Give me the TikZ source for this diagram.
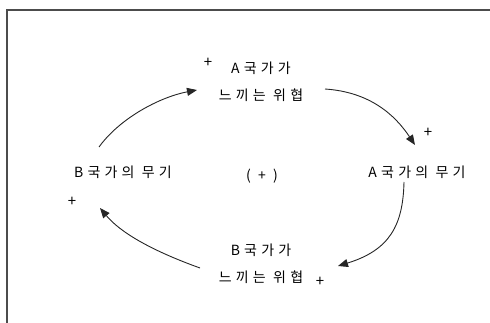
\documentclass[tikz,border=0pt]{standalone}
\usepackage{fontspec}
\newfontfamily\kr{Noto Sans CJK KR}[LetterSpace=30]
\newfontfamily\krp{Noto Sans CJK KR}
\usetikzlibrary{arrows.meta,calc}
\begin{document}
\begin{tikzpicture}[x=1pt,y=-1pt,
  lbl/.style={font=\kr\fontsize{14}{27}\selectfont, align=center, inner sep=0pt, text=black},
  pls/.style={font=\krp\fontsize{15}{15}\selectfont, inner sep=0pt},
  arr/.style={line width=0.9pt, black!85, -{Triangle[length=10pt,width=8pt]}}]
\useasboundingbox (0,0) rectangle (490,323);
\clip (0,0) rectangle (490,323);
\draw[black!70, line width=1.3pt] (7,340) |- (500,10);
\node[lbl] (at) at (261,82) {A국가가\\느끼는 위협};
\node[lbl] (bt) at (261,264) {B국가가\\느끼는 위협};
\node[lbl] (bw) at (123,172) {B국가의 무기};
\node[lbl] (aw) at (417,172) {A국가의 무기};
\node[lbl] (loop) at (262,176) {( + )};
\node[pls] (p1) at (208,63) {+};
\node[pls] (p2) at (428,133) {+};
\node[pls] (p3) at (72,202) {+};
\node[pls] (p4) at (320,282) {+};
\draw[arr] ($(bw.center)+(-24,-25)$) .. controls (120,118) and (160,97) .. ($(at.center)+(-64,8)$);
\draw[arr] ($(at.center)+(64,7)$) .. controls (370,92) and (395,115) .. ($(aw.center)+(-2,-27)$);
\draw[arr] ($(aw.center)+(-13,10)$) .. controls (403,225) and (390,250) .. ($(bt.center)+(77,2)$);
\draw[arr] ($(bt.center)+(-61,4)$) .. controls (150,250) and (120,232) .. ($(bw.center)+(-23,36)$);
\end{tikzpicture}
\end{document}
